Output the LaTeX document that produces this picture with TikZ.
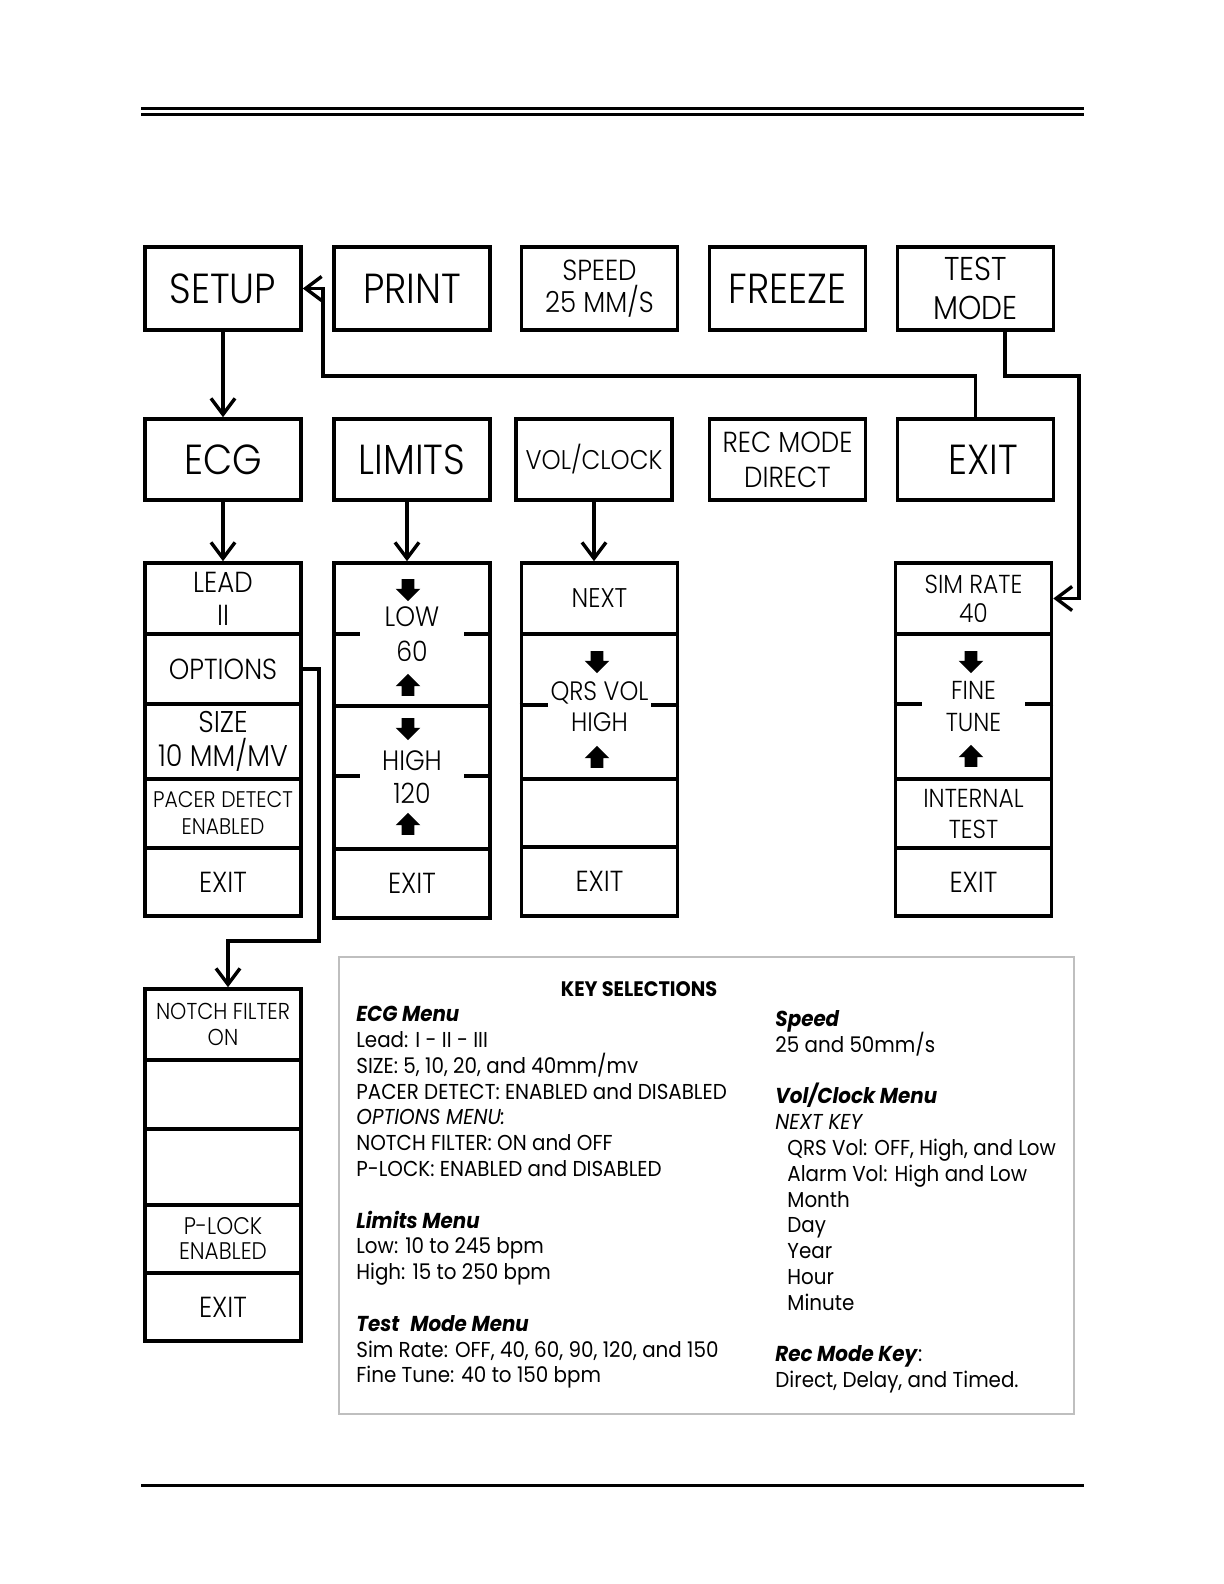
\documentclass[tikz,border=0pt]{standalone}
\usepackage{fontspec}
\usepackage{tikz}
\usetikzlibrary{arrows.meta, positioning, shapes.arrows, calc}
\IfFontExistsTF{Poppins Light}
  {\newfontfamily\panelfont[FakeStretch=0.9]{Poppins Light}}
  {\newfontfamily\panelfont[FakeStretch=0.9]{Poppins}}
\newfontfamily\keyfont[FakeStretch=0.92]{Poppins}
\newcommand{\pfont}[2]{\panelfont\fontsize{#1}{#2}\selectfont}
\newcommand{\tightlines}{\lineskiplimit=-20pt\relax}
\tikzset{
  menubox/.style={rectangle,draw,line width=1.8pt,inner sep=0pt,minimum width=78pt,align=center},
  topkey/.style={menubox,minimum height=41.5pt},
  midkey/.style={menubox,minimum height=40.5pt},
  menuarrow/.style={line width=1.7pt,-{Straight Barb[length=8pt,width=12pt]}},
  splitline/.style={line width=1.8pt},
  updown/.style={single arrow,fill=black,draw=none,inner xsep=0pt,inner ysep=3pt,minimum height=11pt,
    single arrow head extend=3pt,single arrow head indent=0pt},
  dnarrow/.style={updown,rotate=-90},
  uparrow/.style={updown,rotate=90},
  keytext/.style={inner sep=0pt,align=left,anchor=north west,
    font=\keyfont\fontsize{10.8}{12.9}\selectfont\tightlines},
  pagerule/.style={line width=1.5pt},
}
\begin{document}
\begin{tikzpicture}[x=0.5pt,y=-0.5pt]
  \useasboundingbox (0,0) rectangle (1224,1584);
  % page rules
  \draw[pagerule] (141,108.3) -- (1084,108.3);
  \draw[pagerule] (141,114.3) -- (1084,114.3);
  \draw[pagerule] (141,1485.3) -- (1084,1485.3);
  % front panel keys
  \node[topkey,font=\pfont{21}{21}] (setup) at (223,288.5) {SETUP};
  \node[topkey,font=\pfont{21}{21}] (print) at (412,288.5) {PRINT};
  \node[topkey,font=\pfont{14.5}{16}] (speed) at (599.5,288.5) {SPEED\\25 MM/S};
  \node[topkey,font=\pfont{21}{21}] (freeze) at (787.5,288.5) {FREEZE};
  \node[topkey,font=\pfont{16.5}{19.5}] (testmode) at (975.5,288.5) {TEST\\MODE};
  % setup menu
  \node[midkey,font=\pfont{21}{21}] (ecg) at (223,459.5) {ECG};
  \node[midkey,font=\pfont{21}{21}] (limits) at (412,459.5) {LIMITS};
  \node[midkey,font=\pfont{13.5}{15}] (volclock) at (594,459.5) {VOL/CLOCK};
  \node[midkey,font=\pfont{14.5}{17.5}] (recmode) at (787.5,459.5) {REC MODE\\DIRECT};
  \node[midkey,font=\pfont{21}{21}] (exit) at (975.5,459.5) {\kern8pt EXIT};
  % ecg menu
  \node[menubox,minimum height=35.5pt,font=\pfont{14.5}{16.5}] (lead) at (223,598.5) {LEAD\\II};
  \node[menubox,minimum height=35pt,font=\pfont{14.5}{16}] (options) at (223,669) {OPTIONS};
  \node[menubox,minimum height=37.5pt,font=\pfont{15}{17}] (size) at (223,741.5) {SIZE\\10 MM/MV};
  \node[menubox,minimum height=34.5pt,font=\pfont{11.3}{13.5}] (pacer) at (223,813.5) {PACER DETECT\\ENABLED};
  \node[menubox,minimum height=34pt,font=\pfont{14.5}{16}] (ecgexit) at (223,882) {EXIT};
  % limits menu
  \node[menubox,minimum height=71.5pt,font=\pfont{14}{17.5}] (low) at (412,634.5) {LOW\\60};
  \node[menubox,minimum height=71.5pt,font=\pfont{14}{16.5}] (high) at (412,777.5) {HIGH\\120};
  \node[menubox,minimum height=34.5pt,font=\pfont{14.5}{16}] (limexit) at (412,883.5) {EXIT};
  % vol/clock menu
  \node[menubox,minimum height=35.5pt,font=\pfont{13.5}{15}] (next) at (599.5,598.5) {NEXT};
  \node[menubox,minimum height=72.5pt,font=\pfont{13.3}{15.5}] (qrs) at (599.5,706.5) {QRS VOL\\HIGH};
  \node[menubox,minimum height=34pt] (volblank) at (599.5,813) {};
  \node[menubox,minimum height=34.5pt,font=\pfont{14.5}{16}] (volexit) at (599.5,881.5) {EXIT};
  % test mode menu
  \node[menubox,minimum height=35.5pt,font=\pfont{13}{14.5}] (simrate) at (973.5,598.5) {SIM RATE\\40};
  \node[menubox,minimum height=72.5pt,font=\pfont{13}{16}] (finetune) at (973.5,706.5) {FINE\\TUNE};
  \node[menubox,minimum height=34.5pt,font=\pfont{13}{15.5}] (internal) at (973.5,813.5) {INTERNAL\\TEST};
  \node[menubox,minimum height=34pt,font=\pfont{14.5}{16}] (testexit) at (973.5,882) {EXIT};
  % options menu
  \node[menubox,minimum height=35.5pt,font=\pfont{11.5}{13}] (notch) at (223,1024.5) {NOTCH FILTER\\ON};
  \node[menubox,minimum height=34.5pt] (optblanka) at (223,1094.5) {};
  \node[menubox,minimum height=38pt] (optblankb) at (223,1167) {};
  \node[menubox,minimum height=34pt,font=\pfont{12}{12.5}] (plock) at (223,1239) {P-LOCK\\ENABLED};
  \node[menubox,minimum height=34pt,font=\pfont{14.5}{16}] (optexit) at (223,1307) {EXIT};
  % split lines in the two-value cells
  \foreach \c/\d in {low/36.5pt,high/36pt,qrs/36.5pt,finetune/36pt} {
    \draw[splitline] ([yshift=-\d]\c.north west) -- ++(28,0);
    \draw[splitline] ([yshift=-\d]\c.north east) -- ++(-28,0);
  }
  % up/down keys
  \node[dnarrow] (lowdn) at (408,587) {};
  \node[uparrow] (lowup) at (408,688) {};
  \node[dnarrow] (highdn) at (408,726) {};
  \node[uparrow] (highup) at (408,827) {};
  \node[dnarrow] (qrsdn) at (597,659) {};
  \node[uparrow] (qrsup) at (597,760) {};
  \node[dnarrow] (finedn) at (971,659) {};
  \node[uparrow] (fineup) at (971,759) {};
  % connectors
  \draw[menuarrow] (setup) -- (ecg);
  \draw[menuarrow] (exit.north) |- (323,376) |- (setup.east);
  \draw[menuarrow] ([xshift=14.75pt]testmode.south) |- (1079,376) |- (simrate.east);
  \draw[menuarrow] (ecg) -- (lead);
  \draw[menuarrow] ([xshift=-2.5pt]limits.south) -- ([xshift=-2.5pt]low.north);
  \draw[menuarrow] (volclock.south) -- (volclock.south |- next.north);
  \draw[menuarrow] (options.east) -| (319,941) -| ([xshift=2.5pt]notch.north);
  % key selections
  \node[draw=gray!50,line width=0.8pt,minimum width=367.5pt,minimum height=228.5pt,inner sep=0pt] (keyframe) at (706.5,1185.5) {};
  \node[font=\keyfont\bfseries\fontsize{10.5}{12}\selectfont] (keytitle) at (639,989) {KEY SELECTIONS};
  \node[keytext] (keyleft) at (356,1006) {\textbf{\textit{ECG Menu}}\\
    Lead: I - II - III\\
    SIZE: 5, 10, 20, and 40mm/mv\\
    PACER DETECT: ENABLED and DISABLED\\
    \textit{OPTIONS MENU:}\\
    NOTCH FILTER: ON and OFF\\
    P-LOCK: ENABLED and DISABLED\\[12.9pt]
    \textbf{\textit{Limits Menu}}\\
    Low: 10 to 245 bpm\\
    High: 15 to 250 bpm\\[12.9pt]
    \textbf{\textit{Test\enspace Mode Menu}}\\
    Sim Rate: OFF, 40, 60, 90, 120, and 150\\
    Fine Tune: 40 to 150 bpm};
  \node[keytext] (keyright) at (775,1010) {\textbf{\textit{Speed}}\\
    25 and 50mm/s\\[12.9pt]
    \textbf{\textit{Vol/Clock Menu}}\\
    \textit{NEXT KEY}\\
    \hspace*{6pt}QRS Vol: OFF, High, and Low\\
    \hspace*{6pt}Alarm Vol: High and Low\\
    \hspace*{6pt}Month\\
    \hspace*{6pt}Day\\
    \hspace*{6pt}Year\\
    \hspace*{6pt}Hour\\
    \hspace*{6pt}Minute\\[12.9pt]
    \textbf{\textit{Rec Mode Key}}:\\
    Direct, Delay, and Timed.};
\end{tikzpicture}
\end{document}
